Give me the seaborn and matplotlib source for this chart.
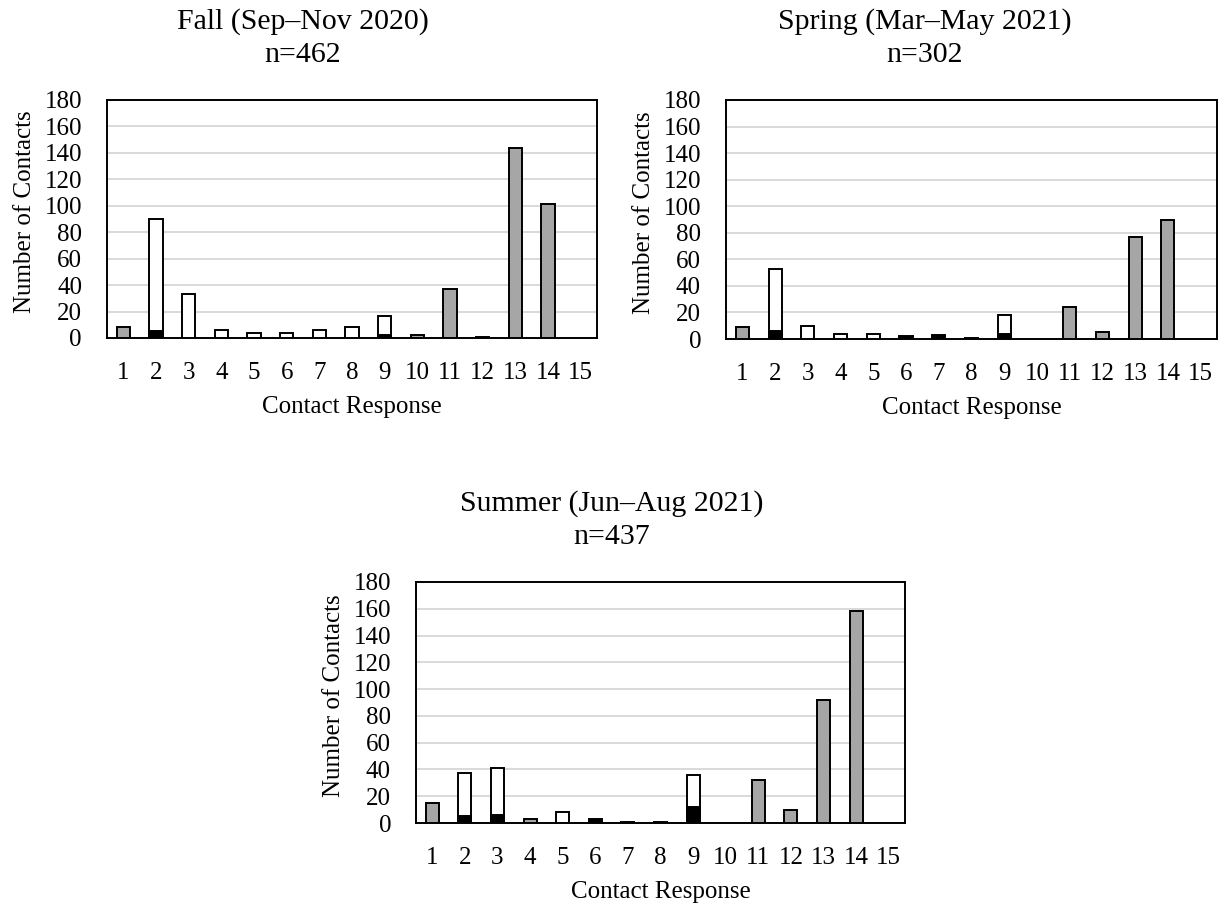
import matplotlib
matplotlib.use("Agg")
import matplotlib.pyplot as plt
import seaborn as sns
import pandas as pd

# Contact response categories and axis ticks
responses = [str(i) for i in range(1, 16)]
y_ticks = list(range(0, 181, 20))

# Fall (Sep–Nov 2020)
fall_title = "Fall (Sep–Nov 2020)"
fall_n = "n=462"
fall_grey = [8, 0, 0, 0, 0, 0, 0, 0, 0, 2, 37, 1, 144, 101, 0]
fall_black = [0, 5, 0, 0, 0, 0, 0, 0, 2, 0, 0, 0, 0, 0, 0]
fall_white = [0, 85, 33, 6, 4, 4, 6, 8, 15, 0, 0, 0, 0, 0, 0]

# Spring (Mar–May 2021)
spring_title = "Spring (Mar–May 2021)"
spring_n = "n=302"
spring_grey = [9, 0, 0, 0, 0, 0, 0, 0, 0, 0, 24, 5, 77, 90, 0]
spring_black = [0, 6, 0, 0, 0, 2, 3, 1, 4, 0, 0, 0, 0, 0, 0]
spring_white = [0, 47, 10, 4, 4, 0, 0, 0, 14, 0, 0, 0, 0, 0, 0]

# Summer (Jun–Aug 2021)
summer_title = "Summer (Jun–Aug 2021)"
summer_n = "n=437"
summer_grey = [15, 0, 0, 3, 0, 0, 0, 0, 0, 0, 32, 10, 92, 158, 0]
summer_black = [0, 5, 6, 0, 0, 3, 1, 1, 12, 0, 0, 0, 0, 0, 0]
summer_white = [0, 32, 35, 0, 8, 0, 0, 0, 24, 0, 0, 0, 0, 0, 0]

sns.set_theme(style="white")
plt.rcParams["font.family"] = ["Liberation Serif", "DejaVu Serif"]
plt.rcParams["font.size"] = 18
plt.rcParams["text.color"] = "black"
plt.rcParams["axes.labelcolor"] = "black"
plt.rcParams["xtick.color"] = "black"
plt.rcParams["ytick.color"] = "black"

W, H = 1224, 907
fig = plt.figure(figsize=(W / 100, H / 100), dpi=100)

GREY = "#a6a6a6"
EDGE_LW = 1.4
BAR_W = 0.4
TITLE_SIZE = 21.5


def px_axes(left, top, right, bottom):
    return fig.add_axes([left / W, 1 - bottom / H, (right - left) / W, (bottom - top) / H])


def draw_bars(ax, values, color):
    df = pd.DataFrame({"response": responses, "value": values})
    df = df[df["value"] > 0]
    sns.barplot(data=df, x="response", y="value", order=responses, color=color,
                saturation=1, edgecolor="black", linewidth=EDGE_LW, width=BAR_W,
                errorbar=None, ax=ax, zorder=3)


def panel(box, grey, black, white, title, n_text, title_xy):
    ax = px_axes(*box)
    # white segments sit on top of the black ones: draw the full stack, then the base
    total = [b + w if w > 0 else 0 for b, w in zip(black, white)]
    draw_bars(ax, total, "white")
    draw_bars(ax, black, "black")
    draw_bars(ax, grey, GREY)

    ax.set_xlim(-0.5, len(responses) - 0.5)
    ax.set_ylim(0, 180)
    ax.set_yticks(y_ticks)
    ax.set_yticklabels([str(t) for t in y_ticks])
    ax.yaxis.grid(True, color="#d9d9d9", linewidth=1.4, zorder=0)
    ax.xaxis.grid(False)
    ax.set_axisbelow(True)
    for s in ax.spines.values():
        s.set_visible(True)
        s.set_color("black")
        s.set_linewidth(1.4)
    ax.tick_params(axis="y", length=0, pad=18, labelsize=18)
    ax.tick_params(axis="x", length=0, pad=17, labelsize=18)

    ax.set_xlabel("Contact Response", fontsize=18)
    ax.set_ylabel("Number of Contacts", fontsize=18)
    width_px = box[2] - box[0]
    height_px = box[3] - box[1]
    ax.yaxis.set_label_coords(-71 / width_px, 0.53)
    ax.xaxis.set_label_coords(0.5, -58 / height_px)

    tx, ty = title_xy
    fig.text(tx / W, 1 - ty / H, title, ha="center", va="center", fontsize=TITLE_SIZE)
    fig.text(tx / W, 1 - (ty + 33) / H, n_text, ha="center", va="center", fontsize=TITLE_SIZE)
    return ax


panel((107, 100, 597, 338), fall_grey, fall_black, fall_white, fall_title, fall_n, (303, 22))
panel((726, 100, 1217, 339), spring_grey, spring_black, spring_white, spring_title, spring_n, (925, 22))
panel((416, 582, 905, 823), summer_grey, summer_black, summer_white, summer_title, summer_n, (612, 504))

fig.savefig("out.png", dpi=100, facecolor="white")
